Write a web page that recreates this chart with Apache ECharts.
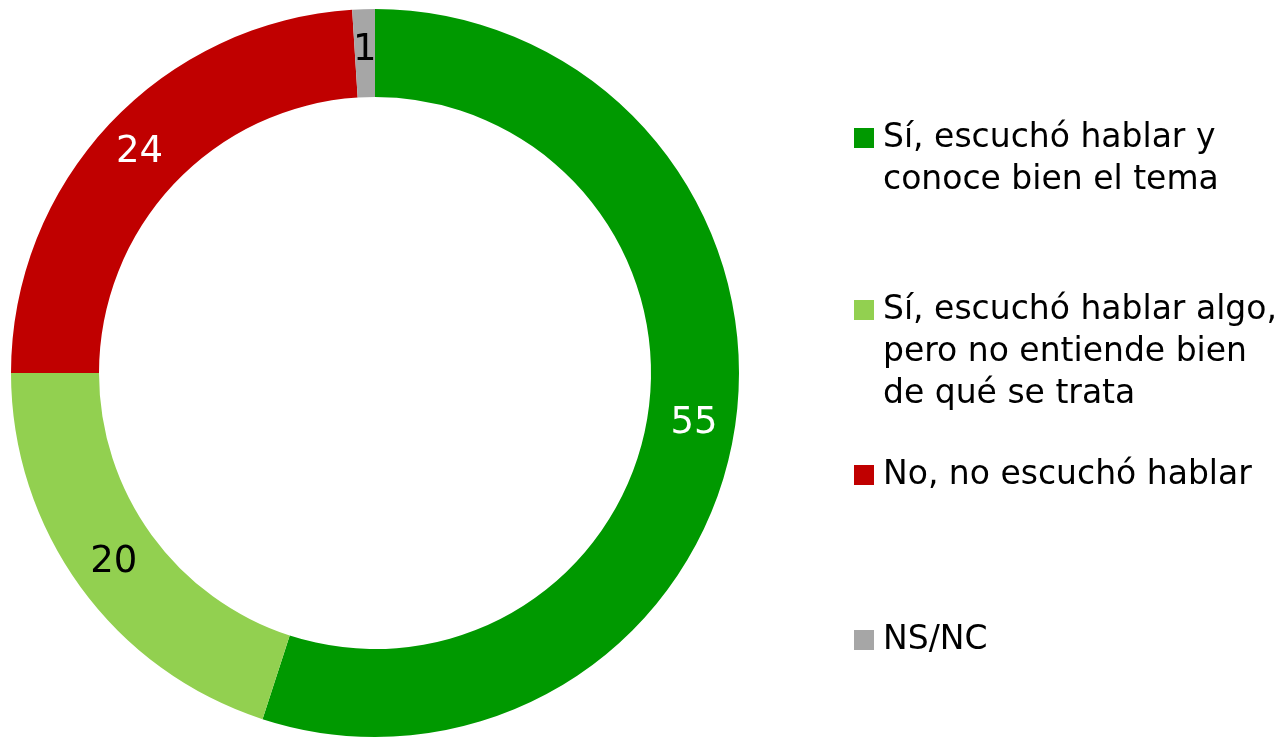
<!DOCTYPE html>
<html>
<head>
<meta charset="utf-8">
<title>Pie</title>
<script src="https://cdn.jsdelivr.net/npm/echarts@6/dist/echarts.min.js"></script>
<style>
  html, body { margin: 0; padding: 0; background: #fff; }
  #chart { width: 1281px; height: 738px; }
</style>
</head>
<body>
<div id="chart"></div>
<script>
// categories (legend text) and values
const categories = [
    'Sí, escuchó hablar y\nconoce bien el tema',
    'Sí, escuchó hablar algo,\npero no entiende bien\nde qué se trata',
    'No, no escuchó hablar',
    'NS/NC'
]
const values = [55, 20, 24, 1]
const colors = ['#009900', '#92D050', '#C00000', '#A6A6A6']
const labelColors = ['#ffffff', '#000000', '#ffffff', '#000000']

const FONT = '"DejaVu Sans", Verdana, sans-serif'
const LINE_H = 42

// one legend per entry so the vertical spacing can follow the picture.
// legend text is centred on its icon, so blank lines are put in front
// to keep the icon level with the first line of text
const legendCenters = [138, 310, 475, 640]
const legends = categories.map((name, i) => {
    const lines = name.split('\n').length
    const boxH = (2 * lines - 1) * LINE_H
    return {
        data: [name],
        left: 854,
        top: Math.round(legendCenters[i] - boxH / 2),
        padding: 0,
        orient: 'vertical',
        icon: 'rect',
        itemWidth: 20,
        itemHeight: 20,
        selectedMode: false,
        formatter: n => '\n'.repeat(lines - 1) + n,
        textStyle: {
            fontFamily: FONT,
            fontSize: 33,
            color: '#000',
            lineHeight: LINE_H,
            padding: [0, 0, 0, 4]
        }
    }
})

const chart = echarts.init(document.getElementById('chart'))
chart.setOption({
    animation: false,
    color: colors,
    legend: legends,
    series: [
        {
            type: 'pie',
            center: [375, 373],
            radius: [276, 364],
            startAngle: 90,
            clockwise: true,
            avoidLabelOverlap: false,
            label: {
                show: true,
                position: 'inside',
                formatter: '{c}',
                fontFamily: FONT,
                fontSize: 37
            },
            labelLine: { show: false },
            emphasis: { scale: false },
            data: categories.map((name, i) => ({
                name: name,
                value: values[i],
                label: { color: labelColors[i] }
            }))
        }
    ]
})
</script>
</body>
</html>
